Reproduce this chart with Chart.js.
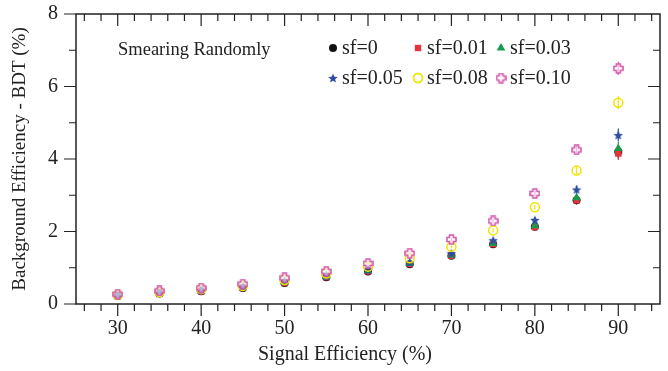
<!DOCTYPE html>
<html>
<head>
<meta charset="utf-8">
<script src="https://cdn.jsdelivr.net/npm/chart.js@4.4.0/dist/chart.umd.min.js"></script>
<style>
  html, body { margin: 0; padding: 0; background: #fff; }
  #wrap { width: 668px; height: 371px; }
</style>
</head>
<body>
<div id="wrap"><canvas id="chart"></canvas></div>
<script>
// Signal efficiency (%) on x, background efficiency (%) on y
const signalEff = [30, 35, 40, 45, 50, 55, 60, 65, 70, 75, 80, 85, 90];
const sf0   = [0.22, 0.29, 0.35, 0.44, 0.58, 0.74, 0.90, 1.10, 1.33, 1.65, 2.13, 2.86, 4.20];
const sf001 = [0.22, 0.29, 0.35, 0.44, 0.58, 0.74, 0.90, 1.10, 1.33, 1.65, 2.12, 2.86, 4.15];
const sf003 = [0.23, 0.30, 0.36, 0.45, 0.60, 0.75, 0.92, 1.12, 1.35, 1.67, 2.16, 2.93, 4.29];
const sf005 = [0.24, 0.31, 0.38, 0.47, 0.62, 0.78, 0.95, 1.15, 1.40, 1.76, 2.32, 3.16, 4.66];
const sf008 = [0.25, 0.33, 0.41, 0.50, 0.66, 0.84, 1.03, 1.26, 1.58, 2.03, 2.67, 3.68, 5.55];
const sf010 = [0.27, 0.36, 0.44, 0.55, 0.72, 0.90, 1.12, 1.40, 1.78, 2.29, 3.05, 4.25, 6.50];
// statistical error (same for every series)
const statErr = [0.01, 0.01, 0.01, 0.01, 0.02, 0.02, 0.03, 0.03, 0.04, 0.05, 0.07, 0.11, 0.18];

const seriesLabels = ['sf=0', 'sf=0.01', 'sf=0.03', 'sf=0.05', 'sf=0.08', 'sf=0.10'];
const xTickLabels = [30, 40, 50, 60, 70, 80, 90];
const yTickLabels = [0, 2, 4, 6, 8];

const FONT = "'Liberation Serif', 'DejaVu Serif', serif";

// custom marker images
function starImage(size, color) {
    const c = document.createElement('canvas');
    c.width = c.height = size;
    const g = c.getContext('2d');
    const cx = size / 2, cy = size / 2 + 0.5, R = size / 2, r = R * 0.45;
    g.beginPath();
    for (let i = 0; i < 10; i++) {
        const rad = i % 2 === 0 ? R : r;
        const a = -Math.PI / 2 + i * Math.PI / 5;
        g.lineTo(cx + rad * Math.cos(a), cy + rad * Math.sin(a));
    }
    g.closePath();
    g.fillStyle = color;
    g.fill();
    return c;
}

function crossImage(size, color) {
    const c = document.createElement('canvas');
    c.width = c.height = size;
    const g = c.getContext('2d');
    const a = size * 0.32, b = size * 0.68, p = 1, q = size - 1;
    g.beginPath();
    g.moveTo(a, p); g.lineTo(b, p); g.lineTo(b, a); g.lineTo(q, a);
    g.lineTo(q, b); g.lineTo(b, b); g.lineTo(b, q); g.lineTo(a, q);
    g.lineTo(a, b); g.lineTo(p, b); g.lineTo(p, a); g.lineTo(a, a);
    g.closePath();
    g.fillStyle = 'rgba(255,255,255,0.6)';
    g.fill();
    g.strokeStyle = color;
    g.lineWidth = 1.6;
    g.stroke();
    return c;
}

const colors = ['#111111', '#e8323c', '#179a4c', '#2d4d9e', '#f0e400', '#d45aab'];
const starImg = starImage(10, colors[3]);
const crossImg = crossImage(11, colors[5]);

function makeSet(i, values, style, radius, filled, order) {
    return {
        label: seriesLabels[i],
        data: signalEff.map((x, k) => ({ x: x, y: values[k] })),
        showLine: false,
        pointStyle: style,
        pointRadius: radius,
        pointHoverRadius: radius,
        pointBackgroundColor: filled ? colors[i] : 'rgba(0,0,0,0)',
        pointBorderColor: colors[i],
        pointBorderWidth: filled ? 0 : 1.5,
        order: order
    };
}

const datasets = [
    makeSet(0, sf0, 'circle', 4, true, 5),
    makeSet(1, sf001, 'rect', 4.5, true, 4),
    makeSet(2, sf003, 'triangle', 5, true, 3),
    makeSet(3, sf005, starImg, 5, true, 2),
    makeSet(4, sf008, 'circle', 4.5, false, 1),
    makeSet(5, sf010, crossImg, 5.5, true, 0)
];

// vertical error bars under the markers
const errorBarPlugin = {
    id: 'errorBars',
    beforeDatasetsDraw(chart) {
        const ctx = chart.ctx;
        const xs = chart.scales.x, ys = chart.scales.y;
        ctx.save();
        ctx.lineWidth = 1.2;
        chart.data.datasets.forEach(ds => {
            ctx.strokeStyle = ds.pointBorderColor;
            ctx.beginPath();
            ds.data.forEach((p, k) => {
                const px = xs.getPixelForValue(p.x);
                ctx.moveTo(px, ys.getPixelForValue(p.y - statErr[k]));
                ctx.lineTo(px, ys.getPixelForValue(p.y + statErr[k]));
            });
            ctx.stroke();
        });
        ctx.restore();
    }
};

// frame, inner/outer ticks, annotation, x title and legend
const decorPlugin = {
    id: 'decor',
    afterDraw(chart) {
        const ctx = chart.ctx;
        const a = chart.chartArea;
        const xs = chart.scales.x, ys = chart.scales.y;
        ctx.save();
        ctx.strokeStyle = '#222';
        ctx.lineWidth = 1.5;
        ctx.strokeRect(a.left, a.top, a.right - a.left, a.bottom - a.top);

        ctx.lineWidth = 1.2;
        ctx.beginPath();
        for (let v = 26; v <= 94; v += 2) {
            const px = xs.getPixelForValue(v);
            const len = v % 10 === 0 ? 12 : 7;
            ctx.moveTo(px, a.bottom); ctx.lineTo(px, a.bottom + len);
            ctx.moveTo(px, a.top); ctx.lineTo(px, a.top + len);
        }
        for (let v = 1; v <= 7; v++) {
            const py = ys.getPixelForValue(v);
            const len = v % 2 === 0 ? 12 : 7;
            ctx.moveTo(a.left, py); ctx.lineTo(a.left - len, py);
            ctx.moveTo(a.right, py); ctx.lineTo(a.right - len, py);
        }
        [0, 8].forEach(v => {
            const py = ys.getPixelForValue(v);
            ctx.moveTo(a.left, py); ctx.lineTo(a.left - 12, py);
        });
        ctx.stroke();

        ctx.fillStyle = '#222';
        ctx.textBaseline = 'middle';
        ctx.textAlign = 'center';
        ctx.font = '20px ' + FONT;
        ctx.fillText('Signal Efficiency (%)', 345, 355);

        ctx.textAlign = 'left';
        ctx.font = '18.5px ' + FONT;
        ctx.fillText('Smearing Randomly', 118, 50);

        // legend, 2 rows x 3 columns
        const colX = [333, 418, 501];
        const rowY = [48, 78];
        chart.data.datasets.forEach((ds, i) => {
            const x = colX[i % 3], y = rowY[Math.floor(i / 3)];
            ctx.fillStyle = ds.pointBackgroundColor;
            ctx.strokeStyle = ds.pointBorderColor;
            ctx.lineWidth = ds.pointBorderWidth;
            Chart.helpers.drawPoint(ctx, {
                pointStyle: ds.pointStyle,
                radius: ds.pointRadius,
                borderWidth: ds.pointBorderWidth,
                rotation: 0
            }, x, y);
            if (ds.pointBorderWidth) ctx.stroke();
            ctx.fillStyle = '#222';
            ctx.font = '20px ' + FONT;
            ctx.fillText(ds.label, x + 9, y + 1);
        });
        ctx.restore();
    }
};

new Chart(document.getElementById('chart'), {
    type: 'scatter',
    data: { datasets: datasets },
    options: {
        responsive: true,
        maintainAspectRatio: false,
        animation: false,
        layout: { padding: { top: 14, right: 8, left: 0, bottom: 0 } },
        plugins: {
            legend: { display: false },
            tooltip: { enabled: false }
        },
        scales: {
            x: {
                type: 'linear',
                min: 25,
                max: 95,
                afterBuildTicks: s => { s.ticks = xTickLabels.map(v => ({ value: v })); },
                afterFit: s => { s.height = 67; s.paddingLeft = 0; s.paddingRight = 0; },
                grid: { display: false, drawTicks: false },
                border: { display: false },
                ticks: {
                    padding: 13,
                    color: '#222',
                    font: { family: FONT, size: 20 },
                    maxRotation: 0
                }
            },
            y: {
                type: 'linear',
                min: 0,
                max: 8,
                afterBuildTicks: s => { s.ticks = yTickLabels.map(v => ({ value: v })); },
                afterFit: s => { s.width = 76; s.paddingTop = 0; s.paddingBottom = 0; },
                grid: { display: false, drawTicks: false },
                border: { display: false },
                ticks: {
                    padding: 18,
                    color: '#222',
                    font: { family: FONT, size: 20 }
                },
                title: {
                    display: true,
                    text: 'Background Efficiency - BDT (%)',
                    color: '#222',
                    font: { family: FONT, size: 19 },
                    padding: { top: 9, bottom: 0 }
                }
            }
        }
    },
    plugins: [errorBarPlugin, decorPlugin]
});
</script>
</body>
</html>
